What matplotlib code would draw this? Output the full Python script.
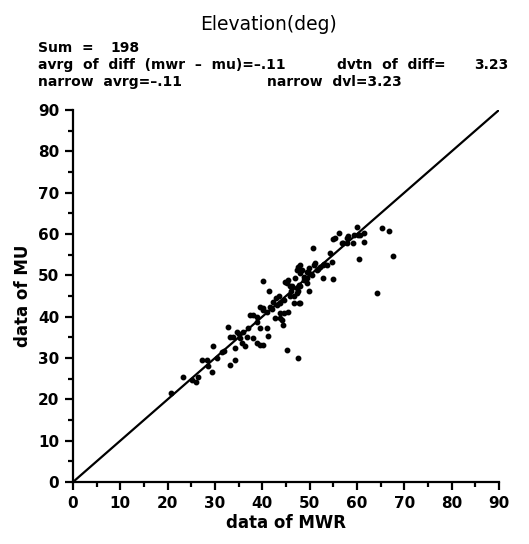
import numpy as np
import matplotlib.pyplot as plt
from matplotlib.ticker import MultipleLocator

# data (MWR vs MU elevation, deg)
mwr = [20.6, 23.3, 25.2, 25.9, 26.5, 27.2, 28.3, 28.5, 29.3, 29.5,
       30.5, 31.4, 32.0, 32.7, 33.2, 33.2, 33.9, 34.2, 34.2, 34.6,
       35.0, 35.3, 35.7, 36.4, 36.7, 37.4, 38.1, 38.8, 38.1, 38.8,
       39.5, 40.2, 38.8, 39.5, 39.5, 40.2, 40.2, 40.9, 40.1, 41.0,
       41.3, 41.4, 41.6, 42.2, 42.8, 43.1, 43.5, 43.8, 42.7, 43.8,
       43.8, 44.1, 44.4, 44.5, 44.5, 45.5, 45.3, 44.8, 45.2, 45.5,
       45.9, 45.9, 46.2, 46.6, 46.6, 47.3, 47.3, 47.5, 47.6, 48.3,
       47.3, 48.0, 48.0, 46.9, 47.8, 47.6, 47.8, 48.0, 48.7, 48.7,
       49.4, 49.4, 49.9, 49.9, 50.5, 49.4, 49.9, 50.8, 51.2, 51.0,
       51.5, 52.2, 52.9, 53.6, 54.7, 52.9, 55.0, 54.3, 55.0, 55.4,
       56.1, 56.8, 57.0, 57.9, 57.9, 58.2, 59.1, 59.3, 60.0, 60.3,
       60.7, 61.4, 61.4, 65.3, 66.7, 60.5, 67.6, 64.3, 48.0, 36.0,
       37.0, 42.0, 46.0, 51.8, 53.0]
mu = [21.5, 25.3, 24.6, 24.1, 25.5, 29.5, 29.5, 28.0, 26.5, 32.8,
      30.0, 31.5, 31.8, 37.5, 35.2, 28.2, 35.2, 29.4, 32.4, 36.4,
      35.8, 34.8, 33.6, 32.8, 35.2, 40.4, 40.4, 40.0, 34.8, 33.6,
      33.2, 33.2, 38.8, 37.2, 42.4, 42.0, 41.6, 41.2, 48.7, 37.2,
      35.4, 46.1, 42.4, 43.5, 44.5, 42.9, 45.0, 43.3, 39.6, 40.8,
      39.6, 39.2, 38.0, 40.8, 44.1, 41.2, 32.0, 48.5, 48.1, 48.9,
      47.3, 44.9, 47.3, 43.3, 44.9, 45.7, 46.9, 29.9, 52.1, 51.3,
      51.3, 52.5, 50.5, 49.3, 47.7, 46.1, 43.4, 47.3, 49.7, 48.9,
      49.3, 50.9, 50.5, 51.7, 50.1, 48.1, 46.3, 56.7, 52.9, 52.5,
      51.3, 52.1, 52.5, 52.5, 53.3, 49.3, 49.1, 55.4, 58.8, 59.0,
      60.2, 57.8, 57.8, 57.8, 59.0, 59.4, 57.8, 59.8, 61.8, 59.8,
      59.8, 60.2, 58.0, 61.4, 60.8, 53.9, 54.6, 45.8, 43.3, 36.2,
      37.3, 41.8, 46.2, 51.5, 52.8]
ref_line = [0, 90]

plt.rcParams['font.family'] = 'DejaVu Sans'

fig = plt.figure(figsize=(5.29, 5.44), dpi=100)
ax = fig.add_axes([73/529, 62/544, 426/529, 372/544])

ax.plot(ref_line, ref_line, color='black', lw=1.6)
ax.plot(mwr, mu, 'o', color='black', ms=3.2, mec='black')

ax.set_xlim(0, 90)
ax.set_ylim(0, 90)
ax.spines['top'].set_visible(False)
ax.spines['right'].set_visible(False)
for s in ['left', 'bottom']:
    ax.spines[s].set_linewidth(1.6)

ax.xaxis.set_major_locator(MultipleLocator(10))
ax.yaxis.set_major_locator(MultipleLocator(10))
ax.xaxis.set_minor_locator(MultipleLocator(5))
ax.yaxis.set_minor_locator(MultipleLocator(5))
ax.tick_params(which='major', direction='out', length=6, width=1.6,
               labelsize=11, pad=4)
ax.tick_params(which='minor', direction='out', length=3.5, width=1.6)
for lab in ax.get_xticklabels() + ax.get_yticklabels():
    lab.set_fontweight('bold')

ax.set_xlabel('data of MWR', fontsize=12, fontweight='bold', labelpad=2)
ax.set_ylabel('data of MU', fontsize=12, fontweight='bold', labelpad=4)

fig.text(269/529, 1 - 24/544, 'Elevation(deg)', ha='center', va='center',
         fontsize=13.5)
fs = 10
fig.text(38/529, 1 - 48/544, 'Sum  =', ha='left', va='center',
         fontsize=fs, fontweight='bold')
fig.text(110/529, 1 - 48/544, '198', ha='left', va='center',
         fontsize=fs, fontweight='bold')
fig.text(38/529, 1 - 65/544, 'avrg  of  diff  (mwr  \u2013  mu)=\u2013.11',
         ha='left', va='center', fontsize=fs, fontweight='bold')
fig.text(337/529, 1 - 65/544, 'dvtn  of  diff=', ha='left', va='center',
         fontsize=fs, fontweight='bold')
fig.text(508/529, 1 - 65/544, '3.23', ha='right', va='center',
         fontsize=fs, fontweight='bold')
fig.text(38/529, 1 - 82/544, 'narrow  avrg=\u2013.11', ha='left', va='center',
         fontsize=fs, fontweight='bold')
fig.text(267/529, 1 - 82/544, 'narrow  dvl=3.23', ha='left', va='center',
         fontsize=fs, fontweight='bold')

fig.savefig('out.png', dpi=100)
